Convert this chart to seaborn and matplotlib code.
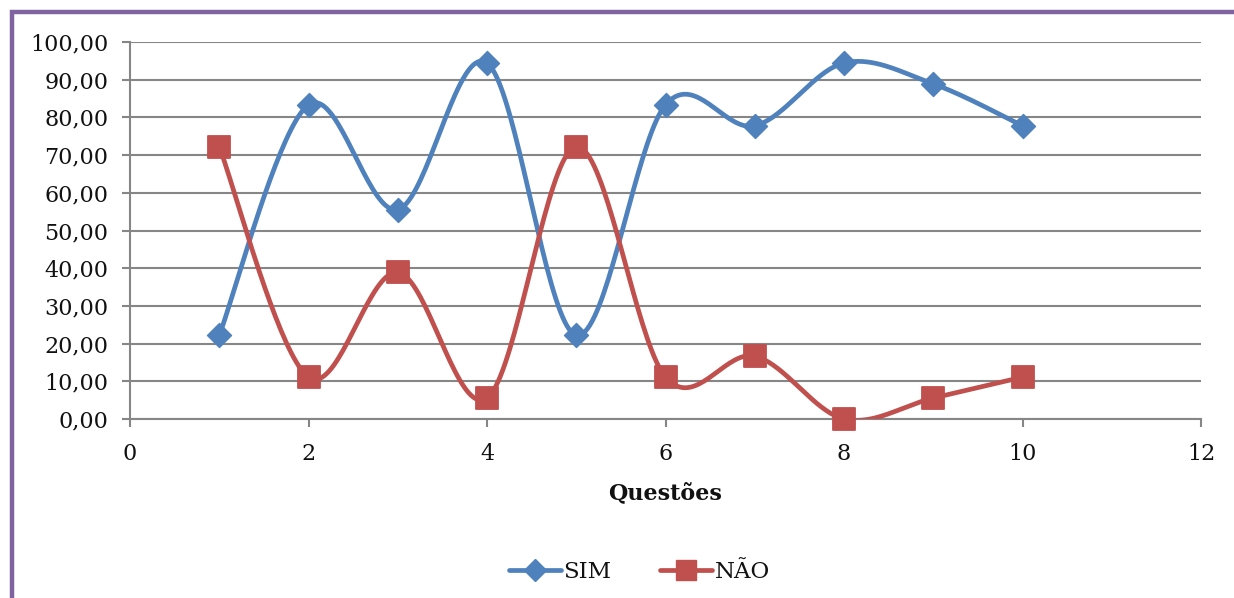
import numpy as np
import pandas as pd
import seaborn as sns
import matplotlib.pyplot as plt
from matplotlib.lines import Line2D
from matplotlib.patches import Rectangle

# Data
questoes = [1, 2, 3, 4, 5, 6, 7, 8, 9, 10]
sim = [22.22, 83.33, 55.56, 94.44, 22.22, 83.33, 77.78, 94.44, 88.89, 77.78]
nao = [72.22, 11.11, 38.89, 5.56, 72.22, 11.11, 16.67, 0.00, 5.56, 11.11]

BLUE = '#4F81BD'
RED = '#C0504D'


# Excel-like smoothed line (cubic Bezier, Catmull-Rom control points)
def smooth_curve(xs, ys, n=40):
    p = np.column_stack([xs, ys]).astype(float)
    p = np.vstack([p[0], p, p[-1]])
    out = []
    for i in range(1, len(p) - 2):
        p0, p1, p2, p3 = p[i - 1], p[i], p[i + 1], p[i + 2]
        c1 = p1 + (p2 - p0) / 6
        c2 = p2 - (p3 - p1) / 6
        t = np.linspace(0, 1, n)[:, None]
        seg = ((1 - t) ** 3) * p1 + 3 * ((1 - t) ** 2) * t * c1 + 3 * (1 - t) * t ** 2 * c2 + t ** 3 * p2
        out.append(seg if i == 1 else seg[1:])
    out = np.vstack(out)
    return pd.DataFrame({'x': out[:, 0], 'y': out[:, 1]})


sns.set_style('white')
plt.rcParams['font.family'] = ['DejaVu Serif']

fig = plt.figure(figsize=(12.34, 5.98), dpi=100)
ax = fig.add_axes([130 / 1234, 1 - 419 / 598, (1201 - 130) / 1234, (419 - 42) / 598])

# purple frame
fig.patches.append(Rectangle((12 / 1234, -0.1), 1.2, (598 - 12) / 598 + 0.1,
                             transform=fig.transFigure, fill=False,
                             edgecolor='#8064A2', linewidth=3.2, zorder=0))

ax.set_xlim(0, 12)
ax.set_ylim(0, 100)
ax.set_yticks(np.arange(0, 101, 10))
ax.set_xticks(np.arange(0, 13, 2))
ax.set_yticklabels([f'{v:.2f}'.replace('.', ',') for v in np.arange(0, 101, 10)])
ax.yaxis.grid(True, color='#868686', linewidth=1.5)
ax.set_axisbelow(True)
for s in ['top', 'right']:
    ax.spines[s].set_visible(False)
ax.spines['left'].set_color('#868686')
ax.spines['bottom'].set_color('#868686')
ax.spines['left'].set_linewidth(1.5)
ax.spines['bottom'].set_linewidth(1.5)
ax.tick_params(axis='both', direction='out', length=5.5, width=1.5, color='#868686',
               labelsize=16, labelcolor='#111111')
ax.tick_params(axis='y', left=True, pad=10)
ax.tick_params(axis='x', bottom=True, pad=12)

sim_curve = smooth_curve(questoes, sim)
nao_curve = smooth_curve(questoes, nao)
sns.lineplot(data=sim_curve, x='x', y='y', ax=ax, color=BLUE, linewidth=3.4,
             sort=False, estimator=None, zorder=3)
sns.lineplot(data=nao_curve, x='x', y='y', ax=ax, color=RED, linewidth=3.4,
             sort=False, estimator=None, zorder=3)
sns.scatterplot(x=questoes, y=sim, ax=ax, marker='D', s=150, color=BLUE,
                edgecolor=BLUE, zorder=4, clip_on=False)
sns.scatterplot(x=questoes, y=nao, ax=ax, marker='s', s=270, color=RED,
                edgecolor=RED, zorder=4, clip_on=False)

ax.set_xlabel('Questões', fontsize=16, fontweight='bold', labelpad=12, color='#111111')
ax.set_ylabel('')

handles = [Line2D([], [], color=BLUE, linewidth=3.4, marker='D', markersize=11),
           Line2D([], [], color=RED, linewidth=3.4, marker='s', markersize=15)]
fig.legend(handles, ['SIM', 'NÃO'], loc='center', bbox_to_anchor=(0.518, 1 - 572 / 598),
           ncol=2, frameon=False, fontsize=16.5, handlelength=2.3, handletextpad=0.1,
           columnspacing=2.1, labelcolor='#111111')

fig.savefig('out.png', dpi=100)
